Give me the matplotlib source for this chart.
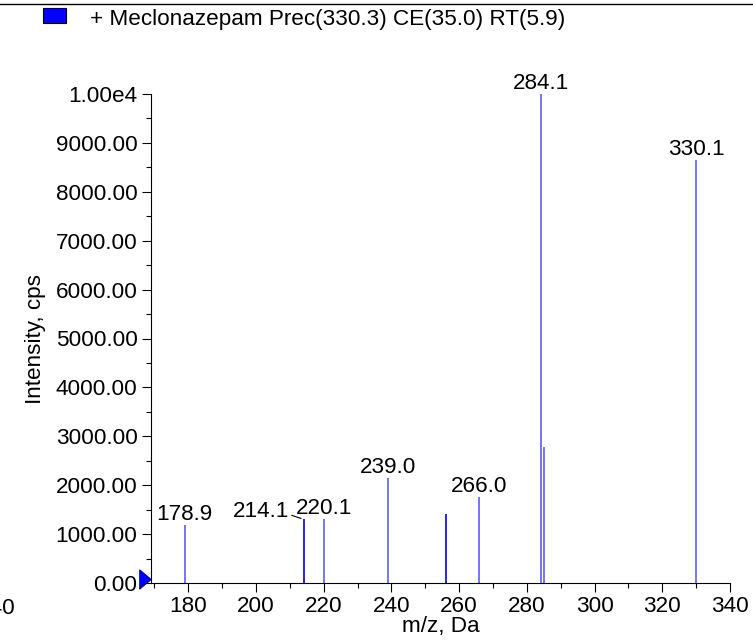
import matplotlib
matplotlib.use('Agg')
import matplotlib.pyplot as plt
import matplotlib.transforms as mtransforms
from matplotlib.ticker import MultipleLocator, FuncFormatter

plt.rcParams['font.family'] = ['Liberation Sans', 'DejaVu Sans']

# Dati dello spettro (m/z, intensità)
mz_picchi = [178.9, 214.1, 220.1, 239.0, 256.1, 266.0, 284.1, 285.1, 330.1]
intensita = [1185, 1300, 1300, 2150, 1410, 1755, 10000, 2790, 8650]
colori_picchi = ['#7373ff', '#0000f0', '#7373ff', '#7373ff', '#0000f0',
                 '#7373ff', '#7373ff', '#7373ff', '#7373ff']
spessori = [1.4, 1.2, 1.4, 1.4, 1.2, 1.4, 1.4, 1.4, 1.4]
etichette = ['178.9', '214.1', '220.1', '239.0', None, '266.0', '284.1', None, '330.1']

titolo = '+ Meclonazepam Prec(330.3) CE(35.0) RT(5.9)'
x_min, x_max = 168.9, 340
y_max = 10000

fig = plt.figure(figsize=(7.53, 6.41), dpi=100)
ax = fig.add_axes([150.7 / 753, 58 / 641, (730 - 150.7) / 753, (583 - 94) / 641])

# Disegna le linee dello spettro
ax.vlines(mz_picchi, 0, intensita, colors=colori_picchi, linewidth=spessori)

fs = 16.2
for mz, h, lab in zip(mz_picchi, intensita, etichette):
    if lab is None:
        continue
    if lab == '214.1':
        # etichetta spostata con linea guida
        ax.annotate(lab, xy=(mz, h), xytext=(-31, 2), textcoords='offset points',
                    ha='center', va='baseline', fontsize=fs,
                    arrowprops=dict(arrowstyle='-', color='black', lw=0.8,
                                    shrinkA=0, shrinkB=2, relpos=(1.0, 0.35)))
    else:
        ax.annotate(lab, xy=(mz, h), xytext=(0, 3.6), textcoords='offset points',
                    ha='center', va='baseline', fontsize=fs, annotation_clip=False)

ax.set_xlim(x_min, x_max)
ax.set_ylim(0, y_max)

ax.xaxis.set_major_locator(MultipleLocator(20))
ax.xaxis.set_minor_locator(MultipleLocator(10))
ax.yaxis.set_major_locator(MultipleLocator(1000))
ax.yaxis.set_minor_locator(MultipleLocator(500))

def formatta_y(v, pos):
    if v >= 10000:
        return '1.00e4'
    return '%.2f' % v

ax.yaxis.set_major_formatter(FuncFormatter(formatta_y))
ax.tick_params(axis='both', which='major', length=6.5, width=0.8, labelsize=fs, pad=3)
ax.tick_params(axis='both', which='minor', length=3.5, width=0.8)

ax.spines['top'].set_visible(False)
ax.spines['right'].set_visible(False)

ax.set_xlabel('m/z, Da', fontsize=fs, labelpad=-1)
ax.set_ylabel('Intensity, cps', fontsize=fs, va='center')
ax.yaxis.set_label_coords(-0.198, 0.5)

# triangolo blu sull'asse y (punta sull'asse, poco sopra lo zero)
offset = mtransforms.ScaledTranslation(-5.5 / 100, 4 / 100, fig.dpi_scale_trans)
triangolo = [(-0.6, -1), (-0.6, 1), (0.6, 0), (-0.6, -1)]
ax.plot([0], [0], marker=triangolo, markersize=14, color='#0000ff', markeredgecolor='#000060',
        markeredgewidth=0.6, clip_on=False, transform=ax.transAxes + offset, zorder=5)

# legenda in alto
fig.add_artist(plt.Rectangle((43 / 753, 1 - 23 / 641), 23 / 753, 15 / 641,
                             facecolor='#0000ff', edgecolor='black', lw=0.8,
                             transform=fig.transFigure))
fig.text(90 / 753, 1 - 20 / 641, titolo, fontsize=fs, va='center', ha='left')
fig.add_artist(plt.Line2D([0, 1], [1 - 4 / 641, 1 - 4 / 641], color='black', lw=1,
                          transform=fig.transFigure))

# residuo di un'etichetta tagliata a sinistra
fig.text(15 / 753, 1 - 609 / 641, '340', fontsize=fs, ha='right', va='center')

fig.savefig('out.png', dpi=100)
